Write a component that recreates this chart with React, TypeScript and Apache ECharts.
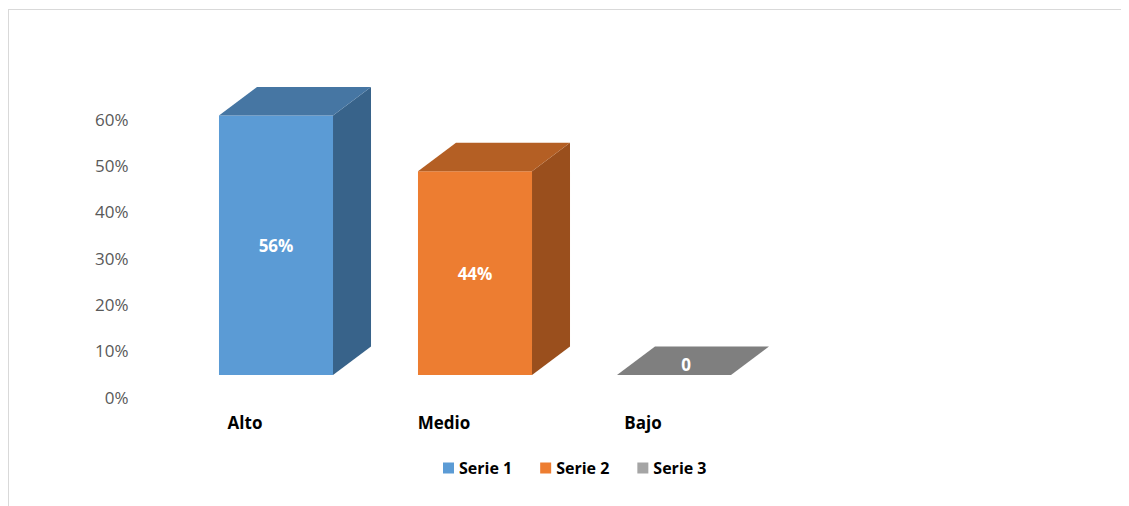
import React, { useEffect, useRef } from "react";
import * as echarts from "echarts";

const categories = ["Alto", "Medio", "Bajo"];
const seriesNames = ["Serie 1", "Serie 2", "Serie 3"];
const seriesValues = [0.56, 0.44, 0];
const yTicks = [0, 0.1, 0.2, 0.3, 0.4, 0.5, 0.6];

const frontColors = ["#5B9BD5", "#ED7D31", "#A5A5A5"];
const topColors = ["#4676A3", "#B45F24", "#7F7F7F"];
const sideColors = ["#38638A", "#9A4F1D", "#6E6E6E"];

const FONT = "'Open Sans', 'Liberation Sans', sans-serif";
const DX = 38;
const DY = -28.5;
const FLOOR_SHIFT = 22;
const X_SHIFT = 31;
const BAR_FRAC = 0.573;

function fmt(v: number) {
  return v === 0 ? "0" : Math.round(v * 100) + "%";
}

export default function App() {
  const ref = useRef<HTMLDivElement>(null);
  useEffect(() => {
    if (!ref.current) return;
    const chart = echarts.init(ref.current, null, { renderer: "svg" });
    const series = seriesNames.map((name, si) => ({
      name,
      type: "custom",
      itemStyle: { color: frontColors[si] },
      encode: { x: 0, y: 1 },
      data: [[si, seriesValues[si]]],
      renderItem: (params: any, api: any) => {
        const ci = api.value(0);
        const v = api.value(1);
        const base = api.coord([ci, 0]);
        const top = api.coord([ci, v]);
        const bw = api.size([1, 0])[0] * BAR_FRAC;
        const cx = base[0] + X_SHIFT;
        const yb = base[1] - FLOOR_SHIFT;
        const yt = top[1] - FLOOR_SHIFT;
        const xl = cx - bw / 2;
        const xr = cx + bw / 2;
        const children: any[] = [];
        if (yb - yt > 0.5) {
          children.push({
            type: "rect",
            shape: { x: xl, y: yt, width: bw, height: yb - yt },
            style: { fill: frontColors[si] },
          });
          children.push({
            type: "polygon",
            shape: {
              points: [
                [xr, yt],
                [xr + DX, yt + DY],
                [xr + DX, yb + DY],
                [xr, yb],
              ],
            },
            style: { fill: sideColors[si] },
          });
        }
        children.push({
          type: "polygon",
          shape: {
            points: [
              [xl, yt],
              [xl + DX, yt + DY],
              [xr + DX, yt + DY],
              [xr, yt],
            ],
          },
          style: { fill: topColors[si] },
        });
        const flat = yb - yt <= 0.5;
        children.push({
          type: "text",
          x: flat ? cx + DX * 0.32 : cx,
          y: flat ? yt + DY * 0.38 : (yt + yb) / 2,
          style: {
            text: fmt(v),
            fill: "#FFFFFF",
            font: `bold 17px ${FONT}`,
            align: "center",
            verticalAlign: "middle",
          },
        });
        return { type: "group", children };
      },
    }));
    chart.setOption({
      animation: false,
      textStyle: { fontFamily: FONT },
      grid: { left: 136.5, right: 386.5, top: 109, bottom: 109 },
      legend: {
        data: seriesNames.map((n, i) => ({ name: n, itemStyle: { color: frontColors[i] } })),
        left: 429,
        top: 445,
        icon: "rect",
        itemWidth: 11,
        itemHeight: 11,
        itemGap: 28,
        textStyle: { fontFamily: FONT, fontSize: 16, fontWeight: "bold", color: "#000000" },
      },
      xAxis: {
        type: "category",
        data: categories,
        axisLine: { show: false },
        axisTick: { show: false },
        axisLabel: {
          margin: 17,
          fontFamily: FONT,
          fontSize: 17,
          fontWeight: "bold",
          color: "#000000",
        },
      },
      yAxis: {
        type: "value",
        min: yTicks[0],
        max: yTicks[yTicks.length - 1],
        interval: 0.1,
        splitLine: { show: false },
        axisLine: { show: false },
        axisTick: { show: false },
        axisLabel: {
          margin: 17,
          fontFamily: FONT,
          fontSize: 17,
          color: "#595959",
          formatter: (v: number) => Math.round(v * 100) + "%",
        },
      },
      series,
    });
    return () => chart.dispose();
  }, []);
  return (
    <div
      style={{
        position: "relative",
        top: 1,
        width: 1200,
        height: 500,
        borderTop: "1px solid #d9d9d9",
        borderLeft: "1px solid #d9d9d9",
      }}
    >
      <div ref={ref} style={{ width: 1120, height: 496 }} />
    </div>
  );
}
